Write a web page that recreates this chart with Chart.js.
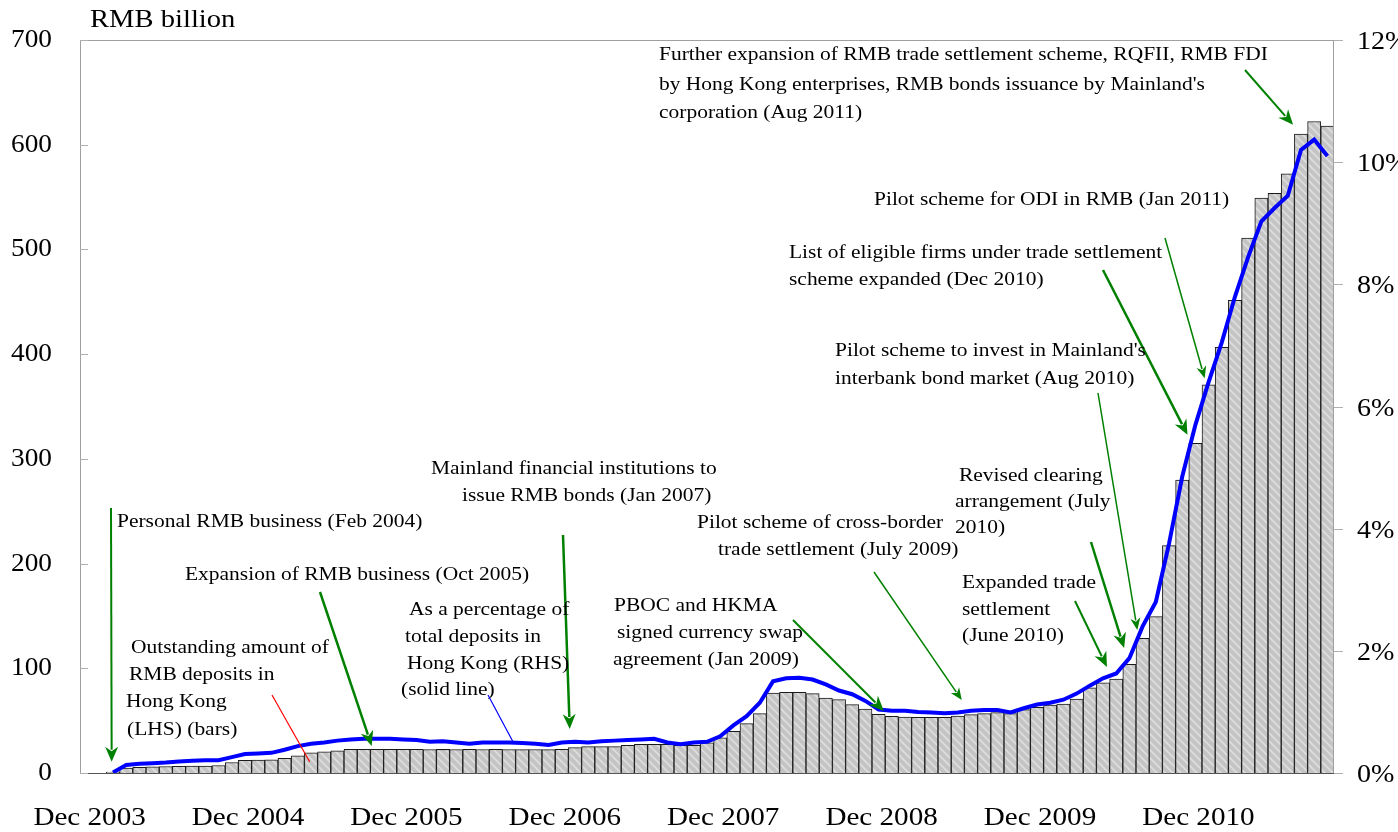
<!DOCTYPE html>
<html>
<head>
<meta charset="utf-8">
<script src="https://cdn.jsdelivr.net/npm/chart.js@4/dist/chart.umd.min.js"></script>
<style>
  html, body { margin: 0; padding: 0; background: #fff; }
  #wrap { width: 1398px; height: 832px; }
</style>
</head>
<body>
<div id="wrap"><canvas id="depositChart" width="1398" height="832"></canvas></div>
<script>
// RMB deposits in Hong Kong, monthly from Dec 2003 to Oct 2011
const startMonth = 11 // Dec
const startYear = 2003
const monthNames = ["Jan", "Feb", "Mar", "Apr", "May", "Jun", "Jul", "Aug", "Sep", "Oct", "Nov", "Dec"]

// outstanding amount, RMB billion (LHS, bars)
const rmbDeposits = [
  0, 0, 0.9, 4.6, 5.3, 5.9, 6.2, 6.4, 6.5, 6.6, 7.2, 10.0, 12.1,
  12.4, 12.5, 14.1, 16.3, 19.2, 20.1, 21.1, 22.6, 22.6, 22.6, 22.6, 22.6,
  22.5, 22.4, 22.5, 22.4, 22.5, 22.4, 22.5, 22.4, 22.3, 22.4, 22.3, 22.6,
  24.2, 25.2, 25.2, 25.2, 26.5, 27.4, 27.4, 27.4, 26.5, 26.5, 28.7, 33.6,
  39.8, 47.2, 56.7, 76.4, 77.1, 77.1, 75.8, 71.6, 70.1, 65.3, 61.1, 56.1,
  54.2, 53.3, 53.2, 53.2, 53.2, 54.4, 55.8, 56.7, 57.7, 56.7, 60.5, 62.7,
  64.9, 65.9, 70.7, 81.3, 86.0, 89.7, 103.7, 128.7, 149.3, 217.1, 279.8, 314.9,
  370.6, 406.6, 451.5, 510.8, 549.0, 553.6, 572.2, 610.1, 622.2, 617.9
]

// as a percentage of total deposits in Hong Kong (RHS, solid line)
const shareOfDeposits = [
  null, null, 0.01, 0.13, 0.15, 0.16, 0.17, 0.19, 0.20, 0.21, 0.21, 0.26, 0.31,
  0.32, 0.33, 0.38, 0.44, 0.48, 0.50, 0.53, 0.55, 0.56, 0.56, 0.56, 0.55,
  0.54, 0.51, 0.52, 0.50, 0.48, 0.50, 0.50, 0.50, 0.49, 0.48, 0.46, 0.50,
  0.51, 0.50, 0.52, 0.53, 0.54, 0.55, 0.56, 0.50, 0.47, 0.50, 0.51, 0.60,
  0.78, 0.93, 1.15, 1.50, 1.55, 1.56, 1.53, 1.45, 1.35, 1.29, 1.18, 1.04,
  1.02, 1.02, 1.00, 0.99, 0.98, 0.99, 1.02, 1.03, 1.03, 0.99, 1.06, 1.12,
  1.15, 1.20, 1.30, 1.43, 1.55, 1.63, 1.88, 2.40, 2.80, 3.75, 4.85, 5.70,
  6.40, 7.05, 7.80, 8.45, 9.03, 9.25, 9.45, 10.20, 10.37, 10.10
]

const xTickLabels = ["Dec 2003", "Dec 2004", "Dec 2005", "Dec 2006", "Dec 2007", "Dec 2008", "Dec 2009", "Dec 2010"]
const leftTicks = [0, 100, 200, 300, 400, 500, 600, 700]
const rightTicks = [0, 2, 4, 6, 8, 10, 12]

const months = []
for (let k = 0; k < rmbDeposits.length; k++) {
  const m = (startMonth + k) % 12
  const y = startYear + Math.floor((startMonth + k) / 12)
  months.push(monthNames[m] + " " + y)
}

// event notes: text placed in pixels, arrow tips at (category index, RMB bn)
const notes = [
  { lines: [[659, 55, "Further expansion of RMB trade settlement scheme, RQFII, RMB FDI"],
            [659, 85, "by Hong Kong enterprises, RMB bonds issuance by Mainland's"],
            [659, 113, "corporation (Aug 2011)"]],
    from: [1245, 70], tip: [91.4, 619], width: 2 },
  { lines: [[874, 200, "Pilot scheme for ODI in RMB (Jan 2011)"]],
    from: [1165, 238], tip: [84.7, 377], width: 1.5 },
  { lines: [[789, 253, "List of eligible firms under trade settlement"],
            [789, 280, "scheme expanded (Dec 2010)"]],
    from: [1103, 270], tip: [83.4, 323], width: 2.5 },
  { lines: [[835, 351, "Pilot scheme to invest in Mainland's"],
            [835, 379, "interbank bond market (Aug 2010)"]],
    from: [1098, 393], tip: [79.6, 136.6], width: 1.5 },
  { lines: [[959, 476, "Revised clearing"],
            [955, 502, "arrangement (July"],
            [955, 528, "2010)"]],
    from: [1091, 542], tip: [78.6, 119.4], width: 2.5 },
  { lines: [[962, 583, "Expanded trade"],
            [962, 610, "settlement"],
            [962, 636, "(June 2010)"]],
    from: [1075, 601], tip: [77.3, 101.2], width: 2 },
  { lines: [[697, 523, "Pilot scheme of cross-border"],
            [718, 550, "trade settlement (July 2009)"]],
    from: [874, 572], tip: [66.3, 69.7], width: 1.5 },
  { lines: [[614, 606, "PBOC and HKMA"],
            [617, 633, "signed currency swap"],
            [613, 660, "agreement (Jan 2009)"]],
    from: [793, 620], tip: [60.4, 59.2], width: 2 },
  { lines: [[431, 469, "Mainland financial institutions to"],
            [462, 496, "issue RMB bonds (Jan 2007)"]],
    from: [563, 535], tip: [36.6, 42], width: 2.5 },
  { lines: [[409, 610, "As a percentage of"],
            [405, 637, "total deposits in"],
            [407, 664, "Hong Kong (RHS)"],
            [401, 690, "(solid line)"]],
    from: [488, 695], tip: [32.3, 29.9], width: 1.2, color: "#0000ff", noHead: true },
  { lines: [[185, 575, "Expansion of RMB business (Oct 2005)"]],
    from: [320, 592], tip: [21.6, 25.8], width: 2.5 },
  { lines: [[117, 522, "Personal RMB business (Feb 2004)"]],
    from: [111, 508], tip: [1.9, 10.8], width: 2 },
  { lines: [[131, 648, "Outstanding amount of"],
            [129, 675, "RMB deposits in"],
            [126, 702, "Hong Kong"],
            [127, 730, "(LHS) (bars)"]],
    from: [272, 695], tip: [16.9, 10.8], width: 1.2, color: "#ff0000", noHead: true },
]

const serif = '"Liberation Serif", "Times New Roman", serif'

function wideText(ctx, str, x, y, size, align, stretch) {
  ctx.save()
  ctx.translate(x, y)
  ctx.scale(stretch, 1)
  ctx.font = size + "px " + serif
  ctx.fillStyle = "#000"
  ctx.textAlign = align
  ctx.textBaseline = "middle"
  ctx.fillText(str, 0, 0)
  ctx.restore()
}

function makeHatch() {
  const c = document.createElement("canvas")
  c.width = 8
  c.height = 8
  const g = c.getContext("2d")
  g.fillStyle = "#c4c4c4"
  g.fillRect(0, 0, 8, 8)
  g.strokeStyle = "#dedede"
  g.lineWidth = 1.6
  g.beginPath()
  g.moveTo(-1, -1); g.lineTo(9, 9)
  g.moveTo(-1, 7); g.lineTo(1, 9)
  g.moveTo(7, -1); g.lineTo(9, 1)
  g.stroke()
  return g.createPattern(c, "repeat")
}

const axisPlugin = {
  id: "axisPlugin",
  afterDraw(chart) {
    const ctx = chart.ctx
    const a = chart.chartArea
    const xs = chart.scales.x
    const ys = chart.scales.y
    const ys2 = chart.scales.y2
    ctx.save()
    ctx.strokeStyle = "#a0a0a0"
    ctx.lineWidth = 1
    ctx.strokeRect(a.left + 0.5, a.top + 0.5, a.right - a.left - 1, a.bottom - a.top)
    ctx.strokeStyle = "#555"
    ctx.beginPath()
    ctx.moveTo(a.left, a.bottom + 0.5)
    ctx.lineTo(a.right, a.bottom + 0.5)
    ctx.stroke()
    ctx.strokeStyle = "#b0b0b0"
    leftTicks.forEach(v => {
      const y = Math.round(ys.getPixelForValue(v)) + 0.5
      ctx.beginPath()
      ctx.moveTo(a.left, y)
      ctx.lineTo(a.left + 8, y)
      ctx.stroke()
      wideText(ctx, String(v), 52, y, 26, "right", 1.05)
    })
    rightTicks.forEach(v => {
      const y = Math.round(ys2.getPixelForValue(v)) + 0.5
      ctx.beginPath()
      ctx.moveTo(a.right, y)
      ctx.lineTo(a.right + 9, y)
      ctx.stroke()
      wideText(ctx, v + "%", a.right + 23, y + 2, 26, "left", 1.08)
    })
    xTickLabels.forEach(lab => {
      const x = xs.getPixelForValue(months.indexOf(lab))
      wideText(ctx, lab, x + 3, 818, 26, "center", 1.12)
    })
    wideText(ctx, "RMB billion", 90, 20, 26, "left", 1.1)
    ctx.restore()
  }
}

const notesPlugin = {
  id: "notesPlugin",
  afterDatasetsDraw(chart) {
    const ctx = chart.ctx
    const xs = chart.scales.x
    const ys = chart.scales.y
    ctx.save()
    notes.forEach(n => {
      n.lines.forEach(l => wideText(ctx, l[2], l[0], l[1], 19, "left", 1.13))
      const color = n.color || "#008000"
      const x0 = n.from[0], y0 = n.from[1]
      const x1 = xs.getPixelForValue(n.tip[0]), y1 = ys.getPixelForValue(n.tip[1])
      const ang = Math.atan2(y1 - y0, x1 - x0)
      const headLen = n.noHead ? 0 : (n.width >= 2 ? 15 : 12)
      const headW = n.width >= 2 ? 6.5 : 5
      ctx.strokeStyle = color
      ctx.fillStyle = color
      ctx.lineWidth = n.width
      ctx.beginPath()
      ctx.moveTo(x0, y0)
      ctx.lineTo(x1 - Math.cos(ang) * headLen * 0.8, y1 - Math.sin(ang) * headLen * 0.8)
      ctx.stroke()
      if (!n.noHead) {
        const bx = x1 - Math.cos(ang) * headLen, by = y1 - Math.sin(ang) * headLen
        ctx.beginPath()
        ctx.moveTo(x1, y1)
        ctx.lineTo(bx + Math.sin(ang) * headW, by - Math.cos(ang) * headW)
        ctx.lineTo(x1 - Math.cos(ang) * headLen * 0.7, y1 - Math.sin(ang) * headLen * 0.7)
        ctx.lineTo(bx - Math.sin(ang) * headW, by + Math.cos(ang) * headW)
        ctx.closePath()
        ctx.fill()
      }
    })
    ctx.restore()
  }
}

document.addEventListener("DOMContentLoaded", () => {
  const depositCtx = document.getElementById("depositChart")

  new Chart(depositCtx, {
    data: {
      labels: months,
      datasets: [
        {
          type: "line",
          label: "As a percentage of total deposits in Hong Kong (RHS)",
          data: shareOfDeposits,
          yAxisID: "y2",
          borderColor: "#0000ff",
          borderWidth: 4,
          pointRadius: 0,
          tension: 0,
          order: 1,
        },
        {
          type: "bar",
          label: "Outstanding amount of RMB deposits in Hong Kong (LHS)",
          data: rmbDeposits,
          yAxisID: "y",
          backgroundColor: makeHatch(),
          borderColor: "#1a1a1a",
          borderWidth: 1,
          categoryPercentage: 1,
          barPercentage: 1,
          order: 2,
        },
      ],
    },
    options: {
      responsive: false,
      animation: false,
      devicePixelRatio: 1,
      layout: { padding: { top: 40, left: 0, right: 0, bottom: 0 } },
      plugins: {
        legend: { display: false },
        tooltip: { enabled: false },
      },
      scales: {
        x: {
          type: "category",
          offset: true,
          grid: { display: false },
          border: { display: false },
          ticks: { display: false },
          afterFit: s => { s.height = 59 },
        },
        y: {
          position: "left",
          min: 0,
          max: 700,
          grid: { display: false },
          border: { display: false },
          ticks: { display: false },
          afterFit: s => { s.width = 80 },
        },
        y2: {
          position: "right",
          min: 0,
          max: 12,
          grid: { display: false },
          border: { display: false },
          ticks: { display: false },
          afterFit: s => { s.width = 64 },
        },
      },
    },
    plugins: [axisPlugin, notesPlugin],
  })
})
</script>
</body>
</html>
